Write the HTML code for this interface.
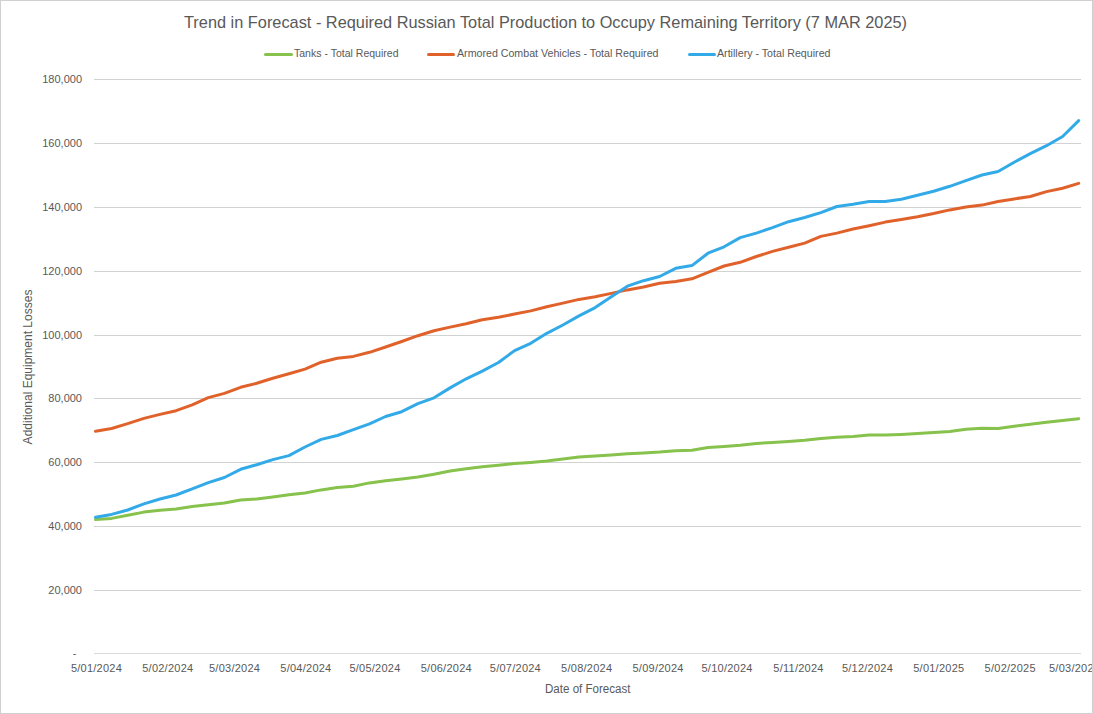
<!DOCTYPE html>
<html><head><meta charset="utf-8"><style>
html,body{margin:0;padding:0;background:#fff;}
svg{display:block;}
text{font-family:"Liberation Sans",sans-serif;fill:#595959;}
.ax{font-size:11px;}
</style></head><body>
<svg width="1093" height="714" viewBox="0 0 1093 714">
<defs><clipPath id="clipb"><rect x="0" y="0" width="1092" height="714"/></clipPath></defs>
<rect x="0.5" y="0.5" width="1092" height="713" fill="#fff" stroke="#d0d0d0" stroke-width="1"/>
<line x1="94" y1="653.5" x2="1081" y2="653.5" stroke="#d9d9d9" stroke-width="1"/>
<text x="76.5" y="657" text-anchor="end" class="ax">-</text>
<line x1="94" y1="590.5" x2="1081" y2="590.5" stroke="#d2d2d2" stroke-width="1"/>
<text x="82" y="594" text-anchor="end" class="ax" letter-spacing="0">20,000</text>
<line x1="94" y1="526.5" x2="1081" y2="526.5" stroke="#d2d2d2" stroke-width="1"/>
<text x="82" y="530" text-anchor="end" class="ax" letter-spacing="0">40,000</text>
<line x1="94" y1="462.5" x2="1081" y2="462.5" stroke="#d2d2d2" stroke-width="1"/>
<text x="82" y="466" text-anchor="end" class="ax" letter-spacing="0">60,000</text>
<line x1="94" y1="398.5" x2="1081" y2="398.5" stroke="#d2d2d2" stroke-width="1"/>
<text x="82" y="402" text-anchor="end" class="ax" letter-spacing="0">80,000</text>
<line x1="94" y1="335.5" x2="1081" y2="335.5" stroke="#d2d2d2" stroke-width="1"/>
<text x="82" y="339" text-anchor="end" class="ax" letter-spacing="0">100,000</text>
<line x1="94" y1="271.5" x2="1081" y2="271.5" stroke="#d2d2d2" stroke-width="1"/>
<text x="82" y="275" text-anchor="end" class="ax" letter-spacing="0">120,000</text>
<line x1="94" y1="207.5" x2="1081" y2="207.5" stroke="#d2d2d2" stroke-width="1"/>
<text x="82" y="211" text-anchor="end" class="ax" letter-spacing="0">140,000</text>
<line x1="94" y1="143.5" x2="1081" y2="143.5" stroke="#d2d2d2" stroke-width="1"/>
<text x="82" y="147" text-anchor="end" class="ax" letter-spacing="0">160,000</text>
<line x1="94" y1="79.5" x2="1081" y2="79.5" stroke="#d2d2d2" stroke-width="1"/>
<text x="82" y="83" text-anchor="end" class="ax" letter-spacing="0">180,000</text>
<text clip-path="url(#clipb)" x="96.5" y="672" text-anchor="middle" class="ax" letter-spacing="0.25">5/01/2024</text>
<text clip-path="url(#clipb)" x="167.8" y="672" text-anchor="middle" class="ax" letter-spacing="0.25">5/02/2024</text>
<text clip-path="url(#clipb)" x="234.6" y="672" text-anchor="middle" class="ax" letter-spacing="0.25">5/03/2024</text>
<text clip-path="url(#clipb)" x="305.9" y="672" text-anchor="middle" class="ax" letter-spacing="0.25">5/04/2024</text>
<text clip-path="url(#clipb)" x="375.0" y="672" text-anchor="middle" class="ax" letter-spacing="0.25">5/05/2024</text>
<text clip-path="url(#clipb)" x="446.3" y="672" text-anchor="middle" class="ax" letter-spacing="0.25">5/06/2024</text>
<text clip-path="url(#clipb)" x="515.4" y="672" text-anchor="middle" class="ax" letter-spacing="0.25">5/07/2024</text>
<text clip-path="url(#clipb)" x="586.7" y="672" text-anchor="middle" class="ax" letter-spacing="0.25">5/08/2024</text>
<text clip-path="url(#clipb)" x="658.1" y="672" text-anchor="middle" class="ax" letter-spacing="0.25">5/09/2024</text>
<text clip-path="url(#clipb)" x="727.1" y="672" text-anchor="middle" class="ax" letter-spacing="0.25">5/10/2024</text>
<text clip-path="url(#clipb)" x="798.5" y="672" text-anchor="middle" class="ax" letter-spacing="0.25">5/11/2024</text>
<text clip-path="url(#clipb)" x="867.5" y="672" text-anchor="middle" class="ax" letter-spacing="0.25">5/12/2024</text>
<text clip-path="url(#clipb)" x="938.8" y="672" text-anchor="middle" class="ax" letter-spacing="0.25">5/01/2025</text>
<text clip-path="url(#clipb)" x="1010.2" y="672" text-anchor="middle" class="ax" letter-spacing="0.25">5/02/2025</text>
<text clip-path="url(#clipb)" x="1074.6" y="672" text-anchor="middle" class="ax" letter-spacing="0.25">5/03/2025</text>
<polyline points="95.5,519.6 111.6,518.4 127.7,515.3 143.9,512.1 160.0,510.2 176.1,509.0 192.2,506.6 208.3,504.7 224.4,503.0 240.6,500.0 256.7,499.0 272.8,497.0 288.9,494.8 305.0,493.0 321.2,489.9 337.3,487.5 353.4,486.2 369.5,482.9 385.6,480.7 401.7,478.9 417.9,477.1 434.0,474.2 450.1,471.0 466.2,468.8 482.3,466.8 498.5,465.3 514.6,463.5 530.7,462.4 546.8,461.1 562.9,458.9 579.0,457.1 595.2,456.0 611.3,454.9 627.4,453.8 643.5,452.9 659.6,452.0 675.7,450.7 691.9,450.3 708.0,447.6 724.1,446.5 740.2,445.2 756.3,443.4 772.5,442.4 788.6,441.5 804.7,440.3 820.8,438.4 836.9,437.3 853.0,436.4 869.2,435.1 885.3,435.1 901.4,434.4 917.5,433.5 933.6,432.6 949.8,431.5 965.9,429.3 982.0,428.3 998.1,428.4 1014.2,426.2 1030.3,424.2 1046.5,422.3 1062.6,420.5 1078.7,418.7" fill="none" stroke="#86C24C" stroke-width="3" stroke-linejoin="round" stroke-linecap="round"/>
<polyline points="95.5,431.2 111.6,428.5 127.7,423.6 143.9,418.4 160.0,414.4 176.1,410.7 192.2,404.9 208.3,397.6 224.4,393.4 240.6,387.3 256.7,383.3 272.8,378.2 288.9,373.8 305.0,369.1 321.2,362.2 337.3,358.2 353.4,356.4 369.5,352.3 385.6,347.0 401.7,341.5 417.9,335.7 434.0,330.7 450.1,327.1 466.2,323.8 482.3,319.8 498.5,317.3 514.6,314.0 530.7,310.9 546.8,306.7 562.9,303.1 579.0,299.4 595.2,296.7 611.3,293.4 627.4,289.9 643.5,287.0 659.6,283.3 675.7,281.5 691.9,278.8 708.0,272.4 724.1,266.0 740.2,262.3 756.3,256.5 772.5,251.4 788.6,247.3 804.7,243.1 820.8,236.4 836.9,233.1 853.0,229.0 869.2,225.7 885.3,222.1 901.4,219.4 917.5,216.7 933.6,213.5 949.8,209.9 965.9,207.1 982.0,205.1 998.1,201.5 1014.2,198.9 1030.3,196.5 1046.5,191.6 1062.6,188.3 1078.7,183.4" fill="none" stroke="#E0622A" stroke-width="3" stroke-linejoin="round" stroke-linecap="round"/>
<polyline points="95.5,517.3 111.6,514.4 127.7,510.0 143.9,503.9 160.0,499.0 176.1,495.0 192.2,488.8 208.3,482.6 224.4,477.5 240.6,469.3 256.7,464.7 272.8,459.6 288.9,455.6 305.0,447.0 321.2,439.4 337.3,435.5 353.4,429.7 369.5,423.8 385.6,416.5 401.7,411.7 417.9,403.7 434.0,397.8 450.1,387.9 466.2,378.8 482.3,371.1 498.5,362.5 514.6,350.6 530.7,343.3 546.8,333.3 562.9,325.0 579.0,315.9 595.2,307.6 611.3,296.7 627.4,286.2 643.5,280.7 659.6,276.5 675.7,268.3 691.9,265.6 708.0,253.2 724.1,246.8 740.2,237.6 756.3,233.1 772.5,227.6 788.6,221.7 804.7,217.5 820.8,212.6 836.9,206.5 853.0,204.3 869.2,201.6 885.3,201.4 901.4,199.2 917.5,195.3 933.6,191.3 949.8,186.3 965.9,180.7 982.0,175.0 998.1,171.5 1014.2,162.2 1030.3,153.6 1046.5,145.7 1062.6,136.5 1078.7,120.6" fill="none" stroke="#33AAE8" stroke-width="3" stroke-linejoin="round" stroke-linecap="round"/>
<text x="184" y="28" font-size="16.2" textLength="723" lengthAdjust="spacingAndGlyphs">Trend in Forecast - Required Russian Total Production to Occupy Remaining Territory (7 MAR 2025)</text>
<line x1="265.5" y1="54.5" x2="291.5" y2="54.5" stroke="#86C24C" stroke-width="3" stroke-linecap="round"/>
<text x="294" y="57" font-size="11" textLength="104.5" lengthAdjust="spacingAndGlyphs">Tanks - Total Required</text>
<line x1="428.5" y1="54.5" x2="453.5" y2="54.5" stroke="#E0622A" stroke-width="3" stroke-linecap="round"/>
<text x="457" y="57" font-size="11" textLength="201.5" lengthAdjust="spacingAndGlyphs">Armored Combat Vehicles - Total Required</text>
<line x1="689.5" y1="54.5" x2="714.5" y2="54.5" stroke="#33AAE8" stroke-width="3" stroke-linecap="round"/>
<text x="717" y="57" font-size="11" textLength="113.5" lengthAdjust="spacingAndGlyphs">Artillery - Total Required</text>
<text x="545" y="693" font-size="12" textLength="85.5" lengthAdjust="spacingAndGlyphs">Date of Forecast</text>
<text transform="translate(32,367) rotate(-90)" x="0" y="0" font-size="12" text-anchor="middle">Additional Equipment Losses</text>
</svg>
</body></html>
